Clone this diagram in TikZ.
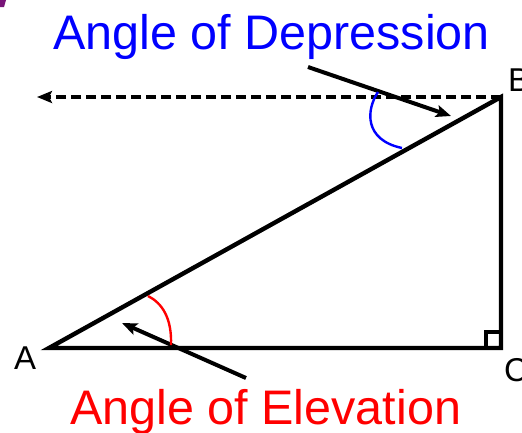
\documentclass[tikz,border=0pt]{standalone}
\usepackage{fontspec}
\setmainfont{Liberation Sans}
\usetikzlibrary{arrows.meta}
\begin{document}
\begin{tikzpicture}[x=1pt,y=-1pt,
  edge/.style={line width=4.4pt},
  tipped/.style={line width=4pt,-{Stealth[length=15pt,width=12pt,inset=3pt]}},
  bigtext/.style={inner sep=0pt,anchor=base west,font=\fontsize{48.5}{58}\selectfont},
  vlabel/.style={inner sep=0pt,anchor=base west,font=\fontsize{33}{40}\selectfont},
  anglemark/.style={line width=2.4pt}]
\useasboundingbox (0,0) rectangle (522,432);
\fill[fill={rgb,255:red,120;green,20;blue,120}] (0,0) -- (6,0) -- (4,7) -- (0,7) -- cycle;
% vertices
\coordinate (A) at (49,348);
\coordinate (B) at (501,97);
\coordinate (C) at (501,348);
\coordinate (W) at (37,97);
% triangle
\draw[edge,line join=miter] (A) -- (B) -- (C) -- cycle;
% right angle
\draw[line width=3.4pt] (486,348) |- (501,332);
% horizontal dashed
\draw[tipped,dash pattern=on 10pt off 5pt] (B) -- (W);
% texts
\node[bigtext,text={rgb,255:red,0;green,0;blue,255}] (dep) at (53,49) {Angle of Depression};
\node[bigtext,text={rgb,255:red,255;green,0;blue,0}] (elev) at (70,424) {Angle of Elevation};
\node[vlabel] (la) at (14,369) {A};
\node[vlabel] (lb) at (508,91) {B};
\node[vlabel] (lc) at (504,381) {C};
% pointer arrows
\coordinate (d0) at (308,67);
\coordinate (d1) at (451,116);
\coordinate (e0) at (246,378);
\coordinate (e1) at (122,323);
\draw[tipped] (d0) -- (d1);
\draw[tipped] (e0) -- (e1);
% angle arcs
\coordinate (b0) at (378,92);
\coordinate (b1) at (402,148);
\coordinate (r0) at (148,296);
\coordinate (r1) at (171,345);
\draw[anglemark,blue] (b0) .. controls (366,110) and (364,140) .. (b1);
\draw[anglemark,red] (r0) .. controls (162,303) and (172,318) .. (r1);
\end{tikzpicture}
\end{document}
